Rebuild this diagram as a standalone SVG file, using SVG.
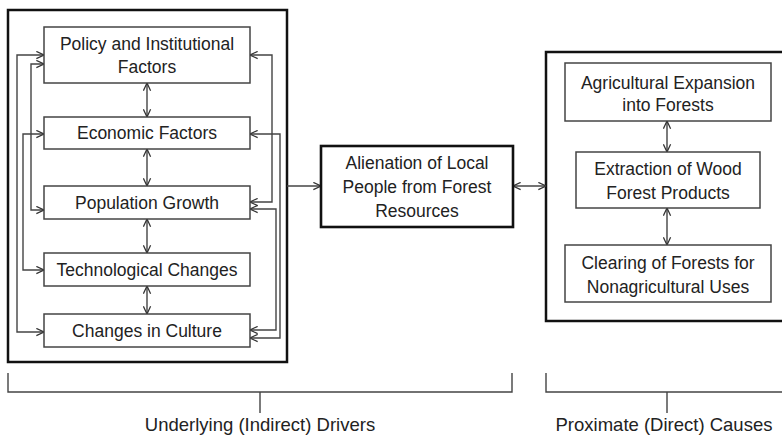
<svg xmlns="http://www.w3.org/2000/svg" width="782" height="437" viewBox="0 0 782 437">
  <defs>
    <marker id="ah" viewBox="0 0 10 10" refX="9.5" refY="5" markerWidth="9" markerHeight="9" markerUnits="userSpaceOnUse" orient="auto-start-reverse">
      <path d="M1,1 L9.5,5 L1,9" fill="none" stroke="#333" stroke-width="1.4"/>
    </marker>
  </defs>
  <style>
    .frame { fill: #fff; stroke: #111; stroke-width: 2.5; }
    .box { fill: #fff; stroke: #444; stroke-width: 1.5; }
    .hub { fill: #fff; stroke: #111; stroke-width: 2.6; }
    .lbl { font-family: "Liberation Sans", Arial, sans-serif; font-size: 17.5px; fill: #222; text-anchor: middle; }
    .cap { font-family: "Liberation Sans", Arial, sans-serif; font-size: 18.5px; fill: #222; text-anchor: middle; }
    .link { fill: none; stroke: #444; stroke-width: 1.4; }
    .two { marker-start: url(#ah); marker-end: url(#ah); }
    .one { marker-end: url(#ah); }
    .brace { fill: none; stroke: #444; stroke-width: 1.4; }
  </style>

  <rect width="782" height="437" fill="#fff"/>

  <!-- outer frames -->
  <rect id="underlying-frame" class="frame" x="8" y="10" width="279" height="352"/>
  <rect id="proximate-frame" class="frame" x="546" y="52" width="250" height="269"/>

  <!-- connectors -->
  <g id="connectors">
    <!-- vertical links between stacked drivers -->
    <path class="link two" d="M147,83 V117"/>
    <path class="link two" d="M147,149 V186"/>
    <path class="link two" d="M147,219 V253"/>
    <path class="link two" d="M147,286 V314"/>
    <!-- left-side loops -->
    <path class="link two" d="M44,55 H17 V332 H44"/>
    <path class="link two" d="M44,64 H31 V210 H44"/>
    <path class="link two" d="M44,134 H23 V270 H44"/>
    <!-- right-side loops -->
    <path class="link two" d="M250,55 H272 V202 H250"/>
    <path class="link two" d="M250,134 H280 V338 H250"/>
    <path class="link two" d="M250,209 H276 V330 H250"/>
    <!-- drivers to alienation, alienation to causes -->
    <path class="link one" d="M287,186 H321"/>
    <path class="link two" d="M513,186 H546"/>
    <!-- vertical links between causes -->
    <path class="link two" d="M667,121 V152"/>
    <path class="link two" d="M667,208 V245"/>
  </g>

  <!-- underlying drivers -->
  <g id="policy">
    <rect class="box" x="44" y="27" width="206" height="56"/>
    <text class="lbl" x="147" y="49.5">Policy and Institutional</text>
    <text class="lbl" x="147" y="72.5">Factors</text>
  </g>
  <g id="economic">
    <rect class="box" x="44" y="117" width="206" height="32"/>
    <text class="lbl" x="147" y="139">Economic Factors</text>
  </g>
  <g id="population">
    <rect class="box" x="44" y="186" width="206" height="33"/>
    <text class="lbl" x="147" y="208.5">Population Growth</text>
  </g>
  <g id="technology">
    <rect class="box" x="44" y="253" width="206" height="33"/>
    <text class="lbl" x="147" y="275.5">Technological Changes</text>
  </g>
  <g id="culture">
    <rect class="box" x="44" y="314" width="206" height="33"/>
    <text class="lbl" x="147" y="336.5">Changes in Culture</text>
  </g>

  <!-- central node -->
  <g id="alienation">
    <rect class="hub" x="321" y="146" width="192" height="81"/>
    <text class="lbl" x="417" y="169">Alienation of Local</text>
    <text class="lbl" x="417" y="193">People from Forest</text>
    <text class="lbl" x="417" y="217">Resources</text>
  </g>

  <!-- proximate causes -->
  <g id="agriculture">
    <rect class="box" x="565" y="63" width="206" height="58"/>
    <text class="lbl" x="668" y="89">Agricultural Expansion</text>
    <text class="lbl" x="668" y="111">into Forests</text>
  </g>
  <g id="extraction">
    <rect class="box" x="576" y="152" width="184" height="56"/>
    <text class="lbl" x="668" y="175">Extraction of Wood</text>
    <text class="lbl" x="668" y="199">Forest Products</text>
  </g>
  <g id="clearing">
    <rect class="box" x="565" y="245" width="206" height="57"/>
    <text class="lbl" x="668" y="269">Clearing of Forests for</text>
    <text class="lbl" x="668" y="293">Nonagricultural Uses</text>
  </g>

  <!-- group brackets and captions -->
  <g id="underlying-bracket">
    <path class="brace" d="M8,373 V392 H512 V373 M260,392 V413"/>
    <text class="cap" x="260" y="431">Underlying (Indirect) Drivers</text>
  </g>
  <g id="proximate-bracket">
    <path class="brace" d="M546,373 V392 H790 M667,392 V413"/>
    <text class="cap" x="664" y="431">Proximate (Direct) Causes</text>
  </g>
</svg>
